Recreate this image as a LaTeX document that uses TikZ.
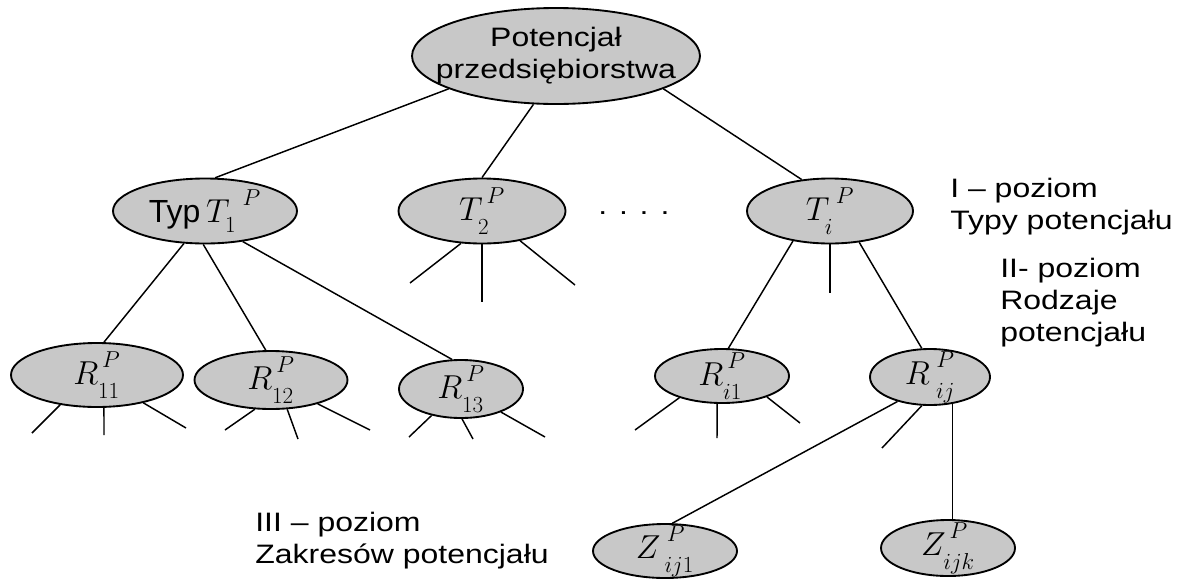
\documentclass[tikz,border=0pt]{standalone}
\usepackage{amsmath}
\usepackage{graphicx}
\usepackage{fontspec}
\setmainfont{Liberation Sans}
\usetikzlibrary{shapes.geometric}

\definecolor{potgray}{RGB}{200,200,200}
\newcommand{\wide}[1]{\scalebox{1.2}[1]{#1}}
% symbol with low index and raised P
\newcommand{\potm}[3][\,]{#2_{\lower4pt\hbox{$\scriptstyle #3$}}^{#1\raise4pt\hbox{$\scriptstyle P$}}}

\tikzset{
  potnode/.style 2 args={ellipse, draw=black, line width=1.4pt, fill=potgray, inner sep=0pt,
    minimum width=#1*0.75pt, minimum height=#2*0.75pt},
  potline/.style={line width=1.1pt},
  lbl/.style={font=\fontsize{24}{28}\selectfont, inner sep=0pt},
  opis/.style={anchor=west, inner sep=0pt, font=\fontsize{20}{24}\selectfont}
}

\begin{document}
\begin{tikzpicture}[x=0.75pt,y=0.75pt,yscale=-1,xscale=1]
\useasboundingbox (0,0) rectangle (1188,579);
%Ellipses
\node[potnode={288}{96}] (top) at (556,56) {};
\node[opis, anchor=center] at (top.center) {\wide{\begin{tabular}{@{}c@{}}Potencjał\\przedsiębiorstwa\end{tabular}}};
\node[potnode={184}{65}, label={[lbl]center:Typ$\,T_{\lower4pt\hbox{$\scriptstyle 1$}}{}^{\;\raise4pt\hbox{$\scriptstyle P$}}$}] (Typ) at (205,211) {};
\node[potnode={167}{65}, label={[lbl]center:$\potm{T}{2}$}] (T2) at (482,211) {};
\node[potnode={166}{65}, label={[lbl]center:$\potm[\;]{T}{i}$}] (Ti) at (830,211) {};
\node[potnode={172}{64}, label={[lbl]center:$\potm{R}{11}$}] (R11) at (97,375) {};
\node[potnode={153}{58}, label={[lbl]center:$\potm{R}{12}$}] (R12) at (271,380) {};
\node[potnode={124}{58}, label={[lbl]center:$\potm{R}{13}$}] (R13) at (461,389) {};
\node[potnode={134}{54}, label={[lbl]center:$\potm{R}{i1}$}] (Ri1) at (722,376) {};
\node[potnode={120}{56}, label={[lbl]center:$\potm[\;]{R}{\;ij}$}] (Rij) at (930,377) {};
\node[potnode={144}{54}, label={[lbl]center:$\potm[\;]{Z}{\;ij1}$}] (Zij1) at (665,551) {};
\node[potnode={134}{56}, label={[lbl]center:$\potm{Z}{ijk}$}] (Zijk) at (948,548) {};
%Texts
\node[opis] (dots) at (598,213) {\wide{. . . .}};
\node[opis] (poz1) at (950,207) {\wide{\begin{tabular}{@{}l@{}}I – poziom\\Typy potencjału\end{tabular}}};
\node[opis] (poz2) at (1000,303) {\wide{\begin{tabular}{@{}l@{}}II- poziom\\Rodzaje\\potencjału\end{tabular}}};
\node[opis] (poz3) at (255,541) {\wide{\begin{tabular}{@{}l@{}}III – poziom\\Zakresów potencjału\end{tabular}}};
%Free ends
\coordinate (t2l) at (410,283);
\coordinate (t2m) at (482,302);
\coordinate (t2r) at (575,285);
\coordinate (tim) at (830,293);
\coordinate (r11l) at (32,433);
\coordinate (r11m) at (104,435);
\coordinate (r11r) at (186,428);
\coordinate (r12l) at (225,430);
\coordinate (r12m) at (298,439);
\coordinate (r12r) at (370,430);
\coordinate (r13l) at (409,437);
\coordinate (r13m) at (473,439);
\coordinate (r13r) at (545,437);
\coordinate (ri1l) at (635,430);
\coordinate (ri1m) at (717,438);
\coordinate (ri1r) at (800,423);
\coordinate (rijm) at (882,448);
%Straight Lines
\draw[potline] (top.197) -- (Typ.73);
\draw[potline] (top.245) -- (T2.north);
\draw[potline] (top.343) -- (Ti.132);
\draw[potline] (Typ.237) -- (R11.78);
\draw[potline] (Typ.267) -- (R12.100);
\draw[potline] (Typ.321) -- (R13.107);
\draw[potline] (Ti.219) -- (Ri1.77);
\draw[potline] (Ti.313) -- (Rij.106);
\draw[potline] (Rij.217) -- (Zij1.75);
\draw[potline] (Rij.310) -- (Rij.310 |- Zijk.north);
%Stubs
\draw[potline] (T2.237) -- (t2l);
\draw[potline] (T2.270) -- (t2m);
\draw[potline] (T2.322) -- (t2r);
\draw[potline] (Ti.270) -- (tim);
\draw[potline] (R11.219) -- (r11l);
\draw[potline] (R11.282) -- (r11m);
\draw[potline] (R11.329) -- (r11r);
\draw[potline] (R12.241) -- (r12l);
\draw[potline] (R12.299) -- (r12m);
\draw[potline] (R12.333) -- (r12r);
\draw[potline] (R13.222) -- (r13l);
\draw[potline] (R13.272) -- (r13m);
\draw[potline] (R13.330) -- (r13r);
\draw[potline] (Ri1.207) -- (ri1l);
\draw[potline] (Ri1.260) -- (ri1m);
\draw[potline] (Ri1.335) -- (ri1r);
\draw[potline] (Rij.254) -- (rijm);
\end{tikzpicture}
\end{document}
